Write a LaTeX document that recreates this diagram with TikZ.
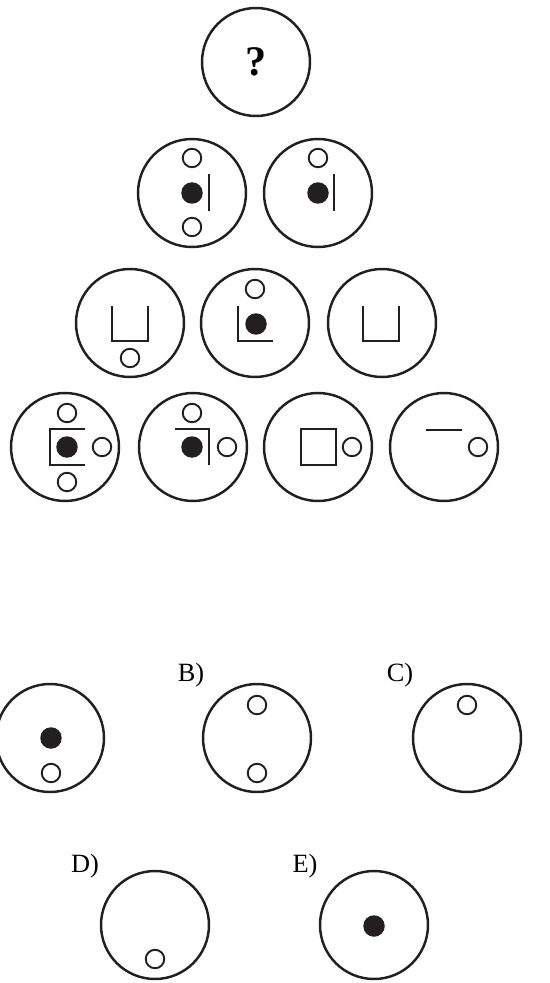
\documentclass[tikz,border=0pt]{standalone}
\usepackage{fontspec}
\setmainfont{Liberation Serif}
\usetikzlibrary{positioning}
\definecolor{ink}{HTML}{231F20}
\tikzset{
  % cerchio grande di una figura
  ring/.style={circle, draw=ink, line width=1.4pt, minimum size=2.16cm, inner sep=0pt},
  % cerchietto vuoto
  hole/.style={circle, draw=ink, line width=1.1pt, minimum size=0.37cm, inner sep=0pt},
  % pallino pieno
  dot/.style={circle, fill=ink, minimum size=0.43cm, inner sep=0pt},
  % segmenti dentro le figure
  seg/.style={draw=ink, line width=1.2pt},
  % etichette delle risposte
  opt/.style={font=\fontsize{15}{15}\selectfont, inner sep=0pt},
}
\begin{document}
\begin{tikzpicture}[x=0.02cm, y=-0.02cm]
  \useasboundingbox (0,0) rectangle (550,983);
  % piramide
  \node[ring, font=\fontsize{24}{24}\selectfont\bfseries] (q) at (256,62) {?};
  % seconda riga
  \node[ring] (b1) at (192,193) {};
  \node[hole] (b1h1) at (192,158) {};
  \node[dot] (b1d) at (192,193) {};
  \node[hole] (b1h2) at (192,227) {};
  \draw[seg] (209,174) -- (209,211);
  \node[ring] (b2) at (318,193) {};
  \node[hole] (b2h) at (318,158) {};
  \node[dot] (b2d) at (318,193) {};
  \draw[seg] (334,174) -- (334,211);
  % terza riga
  \node[ring] (c1) at (130,323) {};
  \draw[seg] (112,306) -- (112,341) -- (148,341) -- (148,306);
  \node[hole] (c1h) at (130,358) {};
  \node[ring] (c2) at (255,323) {};
  \node[hole] (c2h) at (255,289) {};
  \node[dot] (c2d) at (256,324) {};
  \draw[seg] (238,306) -- (238,341) -- (273,341);
  \node[ring] (c3) at (382,323) {};
  \draw[seg] (363,306) -- (363,341) -- (399,341) -- (399,306);
  % quarta riga
  \node[ring] (d1) at (65,447) {};
  \node[hole] (d1h1) at (67,413) {};
  \node[dot] (d1d) at (67,447) {};
  \node[hole] (d1h2) at (67,482) {};
  \node[hole] (d1h3) at (102,447) {};
  \draw[seg] (85,429) -- (50,429) -- (50,465) -- (85,465);
  \node[ring] (d2) at (193,447) {};
  \node[hole] (d2h1) at (192,413) {};
  \node[dot] (d2d) at (192,447) {};
  \node[hole] (d2h2) at (227,447) {};
  \draw[seg] (175,429) -- (209,429) -- (209,465);
  \node[ring] (d3) at (318,447) {};
  \draw[seg] (301,429) rectangle (336,465);
  \node[hole] (d3h) at (352,447) {};
  \node[ring] (d4) at (444,447) {};
  \draw[seg] (426,430) -- (462,430);
  \node[hole] (d4h) at (478,447) {};
  % risposte
  \node[ring] (ansA) at (50,738) {};
  \node[dot] (ansAd) at (51,738) {};
  \node[hole] (ansAh) at (51,773) {};
  \node[opt] (labB) at (191,675) {B)};
  \node[ring] (ansB) at (257,738) {};
  \node[hole] (ansBh1) at (257,705) {};
  \node[hole] (ansBh2) at (257,773) {};
  \node[opt] (labC) at (400,675) {C)};
  \node[ring] (ansC) at (467,738) {};
  \node[hole] (ansCh) at (467,705) {};
  \node[opt] (labD) at (85,866) {D)};
  \node[ring] (ansD) at (155,925) {};
  \node[hole] (ansDh) at (155,959) {};
  \node[opt] (labE) at (305,866) {E)};
  \node[ring] (ansE) at (374,925) {};
  \node[dot] (ansEd) at (374,926) {};
\end{tikzpicture}
\end{document}
